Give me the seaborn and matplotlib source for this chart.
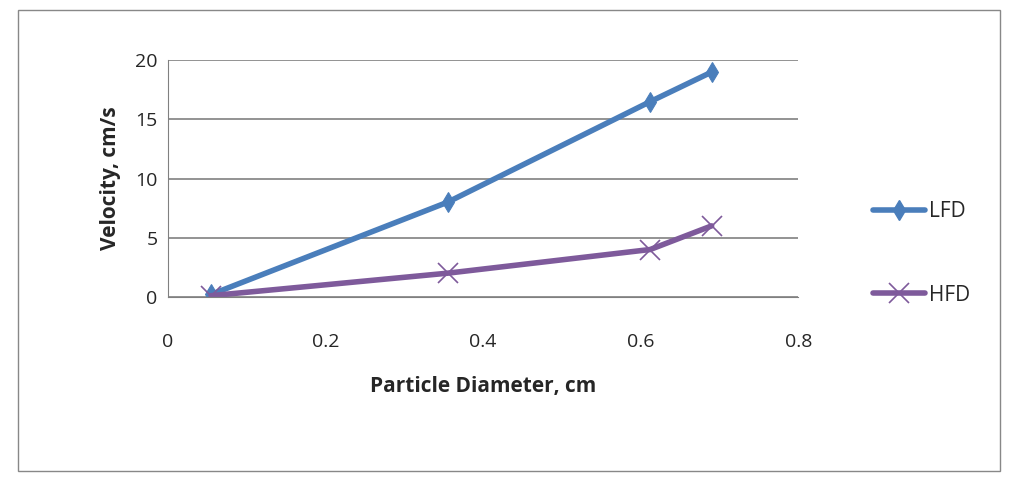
import matplotlib
matplotlib.use("Agg")
import matplotlib.pyplot as plt
import seaborn as sns
import pandas as pd

diam = [0.055, 0.355, 0.612, 0.69]
lfd = [0.2, 8.0, 16.5, 19.0]
hfd = [0.1, 2.0, 4.0, 6.0]
xticks = [0, 0.2, 0.4, 0.6, 0.8]
yticks = [0, 5, 10, 15, 20]

sns.set_style("white")
plt.rcParams['font.family'] = ['Open Sans', 'DejaVu Sans']

fig = plt.figure(figsize=(10.17, 4.78), dpi=100)
ax = fig.add_axes([0.165, 0.379, 0.62, 0.495])
df = pd.DataFrame({"x": diam + diam, "y": lfd + hfd,
                   "s": ["LFD"] * 4 + ["HFD"] * 4})
pal = {"LFD": "#4A7EBB", "HFD": "#7E5A9B"}
sns.lineplot(data=df, x="x", y="y", hue="s", palette=pal, ax=ax, lw=4,
             style="s", markers={"LFD": "d", "HFD": "X"}, dashes=False,
             markersize=10, legend=False)
for l in ax.lines:
    c = l.get_color()
    l.set_markeredgecolor(c)
    if str(c).lower() == "#7e5a9b":
        l.set_marker("x"); l.set_markersize(14); l.set_markeredgewidth(1.2)
ax.set_xlim(0, 0.8); ax.set_ylim(0, 20)
ax.set_xticks(xticks); ax.set_xticklabels(["0", "0.2", "0.4", "0.6", "0.8"])
ax.set_yticks(yticks)
ax.yaxis.grid(True, color="#808080", lw=1.2)
for s in ["top", "right"]:
    ax.spines[s].set_visible(False)
ax.spines["left"].set_color("#808080"); ax.spines["bottom"].set_color("#808080")
ax.tick_params(axis="both", labelsize=14, length=4, direction="out", color="#808080")
ax.tick_params(axis="x", pad=22)
ax.set_xlabel("Particle Diameter, cm", fontsize=15, fontweight="bold", labelpad=18)
ax.set_ylabel("Velocity, cm/s", fontsize=15, fontweight="bold", labelpad=10)

from matplotlib.lines import Line2D
h = [Line2D([], [], color=pal["LFD"], lw=4, marker="d", ms=10),
     Line2D([], [], color=pal["HFD"], lw=4, marker="x", ms=14, mew=1.2)]
fig.legend(h, ["LFD", "HFD"], loc="center left", bbox_to_anchor=(0.84, 0.47),
           frameon=False, fontsize=15, labelspacing=3.0, handlelength=2.5,
           handletextpad=0.2)
fig.patches.append(plt.Rectangle((0.018, 0.015), 0.965, 0.965, transform=fig.transFigure,
                                 fill=False, ec="#888888", lw=1))
fig.savefig("out.png", dpi=100)
